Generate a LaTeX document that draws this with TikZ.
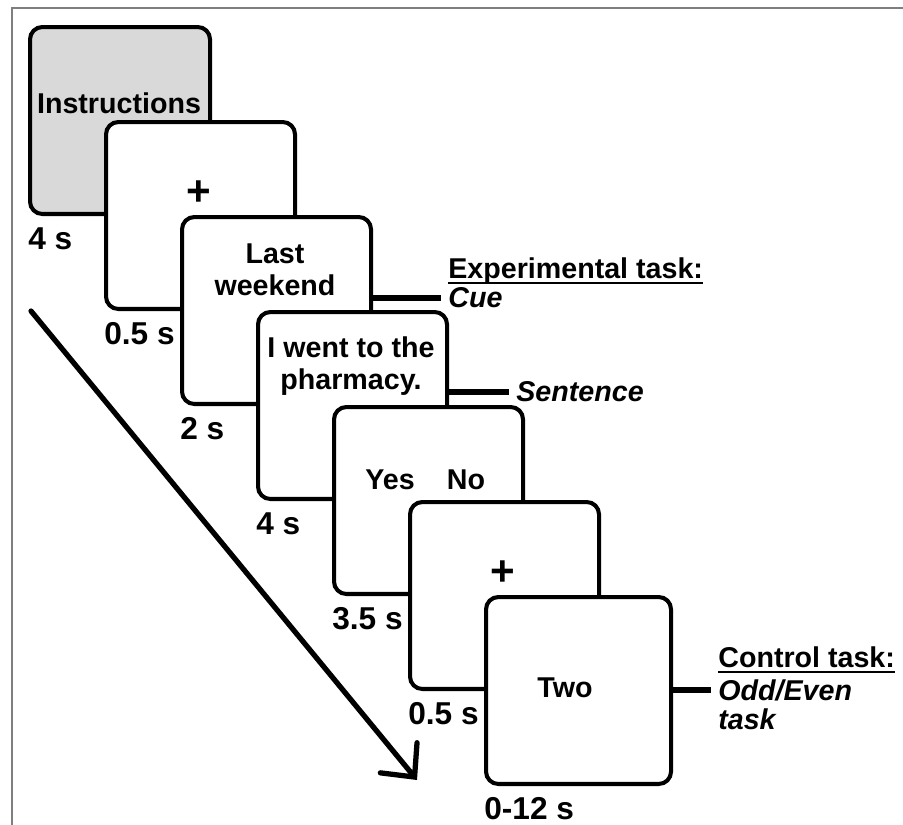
\documentclass[tikz,border=0pt]{standalone}
\usepackage{fontspec}
\setmainfont{Liberation Sans}
\usepackage{xcolor}
\usetikzlibrary{arrows.meta,positioning}
\definecolor{instrgray}{HTML}{D9D9D9}
\definecolor{framegray}{HTML}{7F7F7F}
\newcommand\taskhead[1]{\setbox0\hbox{#1}\rlap{\rule[-3.6pt]{\wd0}{1.2pt}}\box0}

\tikzset{
	screen/.style={draw, line width=2.3pt, rounded corners=7pt, anchor=north west,
		inner sep=0pt, minimum height=3.74cm},
	timelab/.style={anchor=base west, inner sep=0pt, font=\fontsize{18}{20}\selectfont\bfseries},
	tasklab/.style={anchor=west, inner sep=4pt},
	fixcross/.style={font=\fontsize{24}{24}\selectfont\bfseries},
	link/.style={line width=3.5pt},
}

\begin{document}
\begin{tikzpicture}[x=0.02cm, y=-0.02cm]
	\fontsize{16.3}{18}\selectfont\bfseries
	\useasboundingbox (0,0) rectangle (903,825);
	\draw[framegray, line width=1.2pt] (903,8) -- (12,8) -- (12,825);
	% screens, one after the other
	\foreach \i/\w/\c/\t in {1/180/instrgray/4 s, 2/189/white/0.5 s, 3/189/white/2 s,
		4/189/white/4 s, 5/189/white/3.5 s, 6/189/white/0.5 s, 7/185/white/0-12 s}{
		\node[screen, fill=\c, minimum width=\w*0.02cm] (s\i) at ({28+76*(\i-1)}, {25+95*(\i-1)}) {};
		\node[timelab] (t\i) at ([yshift=-0.66cm]s\i.south west) {\t};
	}
	\node (instr) at (119,103) {Instructions};
	\node[fixcross] (fixa) at (199,193) {+};
	\node[align=center] (cuetxt) at (275,270) {Last\\weekend};
	\node[align=center] (senttxt) at (351,366) {I went to the\\pharmacy.};
	\node (yes) at (390,480) {Yes};
	\node (no) at (466,480) {No};
	\node[fixcross] (fixb) at (503,573) {+};
	\node (two) at (565,688) {Two};
	% task labels
	\node[tasklab, font=\bfseries\itshape] (cue) at (441,298) {Cue};
	\node[anchor=base west, inner sep=0pt] (exptask) at (448,278) {\taskhead{Experimental task:}};
	\node[tasklab, font=\bfseries\itshape] (sent) at (509,392) {Sentence};
	\node[anchor=base west, inner sep=0pt] (ctrltask) at (718,667) {\taskhead{Control task:}};
	\node[tasklab, font=\bfseries\itshape] (oddeven) at (711,690) {Odd/Even};
	\node[anchor=base west, inner sep=0pt, font=\bfseries\itshape] (taskb) at (718,729) {task};
	\draw[link] (cue.west -| s3.east) -- (cue.west);
	\draw[link] (sent.west -| s4.east) -- (sent.west);
	\draw[link] (oddeven.west -| s7.east) -- (oddeven.west);
	% time arrow
	\coordinate (tstart) at (31,311);
	\coordinate (tend) at (417,780);
	\draw[line width=3pt, line cap=round,
		-{Straight Barb[length=0.5cm, width=0.95cm, line cap=round]}] (tstart) -- (tend);
\end{tikzpicture}
\end{document}
